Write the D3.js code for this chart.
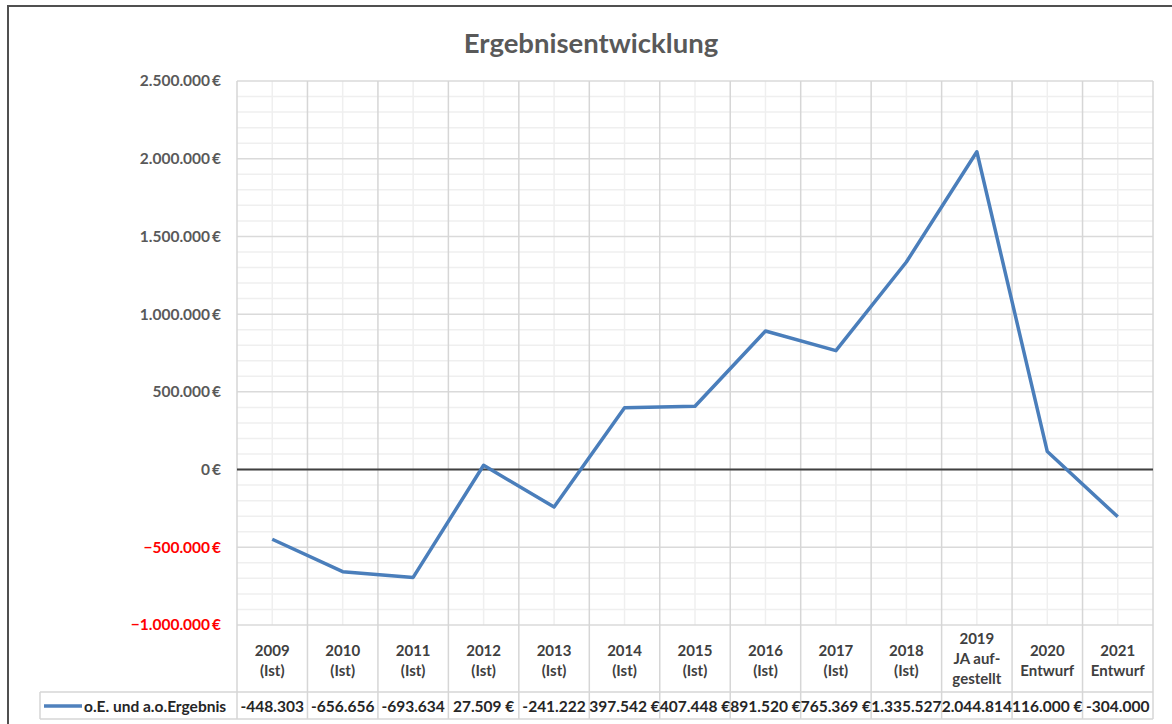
<!DOCTYPE html>
<html><head><meta charset="utf-8">
<script src="https://cdn.jsdelivr.net/npm/d3@7"></script>
<style>body{margin:0;background:#fff}svg{display:block}</style>
</head><body>
<svg id="c" width="1172" height="724"></svg>
<script>
const categories = [["2009","(Ist)"],["2010","(Ist)"],["2011","(Ist)"],["2012","(Ist)"],["2013","(Ist)"],["2014","(Ist)"],["2015","(Ist)"],["2016","(Ist)"],["2017","(Ist)"],["2018","(Ist)"],["2019","JA auf-","gestellt"],["2020","Entwurf"],["2021","Entwurf"]];
const values = [-448303,-656656,-693634,27509,-241222,397542,407448,891520,765369,1335527,2044814,116000,-304000];
const tableLabels = ["-448.303","-656.656","-693.634","27.509 €","-241.222","397.542 €","407.448 €","891.520 €","765.369 €","1.335.527","2.044.814","116.000 €","-304.000"];
const yTicks = [-1000000,-500000,0,500000,1000000,1500000,2000000,2500000];
const seriesName = "o.E. und a.o.Ergebnis";
const title = "Ergebnisentwicklung";

const svg = d3.select("#c");
const font = "Lato, 'Open Sans', sans-serif";
const L=237,R=1153,T=81,B=625;
const keys = categories.map(c=>c[0]);
const x = d3.scaleBand().domain(keys).range([L,R]).paddingInner(0).paddingOuter(0);
const y = d3.scaleLinear().domain([-1000000,2500000]).range([B,T]);

// outer frame
svg.append("rect").attr("x",8).attr("y",6).attr("width",1200).attr("height",800)
  .attr("fill","none").attr("stroke","#505050").attr("stroke-width",2);

// title
svg.append("text").attr("x",591).attr("y",53).attr("text-anchor","middle")
  .attr("font-family",font).attr("font-weight","bold").attr("font-size",27.5)
  .attr("fill","#595959").text(title);

// minor grid
const minor = d3.range(-1000000,2500001,100000).filter(v=>v%500000!==0);
svg.append("g").selectAll("line").data(minor).join("line")
  .attr("x1",L).attr("x2",R).attr("y1",d=>y(d)).attr("y2",d=>y(d))
  .attr("stroke","#EFEFEF").attr("stroke-width",1.5);
svg.append("g").selectAll("line").data(keys).join("line")
  .attr("x1",d=>x(d)+x.bandwidth()/2).attr("x2",d=>x(d)+x.bandwidth()/2)
  .attr("y1",T).attr("y2",B).attr("stroke","#EFEFEF").attr("stroke-width",1.5);
// major grid
svg.append("g").selectAll("line").data(yTicks).join("line")
  .attr("x1",L).attr("x2",R).attr("y1",d=>y(d)).attr("y2",d=>y(d))
  .attr("stroke","#DADADA").attr("stroke-width",1.5);
const bounds = keys.map(k=>x(k)).concat([R]);
svg.append("g").selectAll("line").data(bounds).join("line")
  .attr("x1",d=>d).attr("x2",d=>d).attr("y1",T).attr("y2",719)
  .attr("stroke","#D6D6D6").attr("stroke-width",1.5);

// table horizontal lines
[[40,692],[40,719]].forEach(([x0,yy])=>{
  svg.append("line").attr("x1",x0).attr("x2",R).attr("y1",yy).attr("y2",yy)
    .attr("stroke","#D6D6D6").attr("stroke-width",1.5);
});
svg.append("line").attr("x1",40).attr("x2",40).attr("y1",692).attr("y2",719)
  .attr("stroke","#D6D6D6").attr("stroke-width",1.5);

// zero line
svg.append("line").attr("x1",L).attr("x2",R).attr("y1",y(0)).attr("y2",y(0))
  .attr("stroke","#404040").attr("stroke-width",2);

// y axis labels
const fmt = v => d3.format(",")(v).replace(/,/g,".") + "\u2009€";
svg.append("g").selectAll("text").data(yTicks).join("text")
  .attr("x",221).attr("y",d=>y(d)).attr("dy","0.35em").attr("text-anchor","end")
  .attr("font-family",font).attr("font-weight","bold").attr("font-size",15.5)
  .attr("fill",d=>d<0?"#FF0000":"#595959").text(fmt);

// category labels
const cg = svg.append("g");
categories.forEach(c=>{
  const cx = x(c[0])+x.bandwidth()/2;
  const y0 = c.length===3 ? 644 : 656;
  c.forEach((line,i)=>{
    cg.append("text").attr("x",cx).attr("y",y0+i*20).attr("text-anchor","middle")
      .attr("font-family",font).attr("font-weight","bold").attr("font-size",15)
      .attr("fill","#404040").text(line);
  });
});

// table values
svg.append("g").selectAll("text").data(tableLabels).join("text")
  .attr("x",(d,i)=>x(keys[i])+x.bandwidth()/2).attr("y",712).attr("text-anchor","middle")
  .attr("font-family",font).attr("font-weight","bold").attr("font-size",15.5)
  .attr("fill","#262626").text(d=>d);

// legend
svg.append("line").attr("x1",44).attr("x2",82).attr("y1",706).attr("y2",706)
  .attr("stroke","#4F81BD").attr("stroke-width",3.5);
svg.append("text").attr("x",84).attr("y",712).attr("font-family",font).attr("font-weight","bold")
  .attr("font-size",15.5).attr("fill","#262626").text(seriesName);

// line
const line = d3.line().x((d,i)=>x(keys[i])+x.bandwidth()/2).y(d=>y(d));
svg.append("path").datum(values).attr("d",line).attr("fill","none")
  .attr("stroke","#4A7EBB").attr("stroke-width",3.5).attr("stroke-linejoin","round");
</script>
</body></html>
